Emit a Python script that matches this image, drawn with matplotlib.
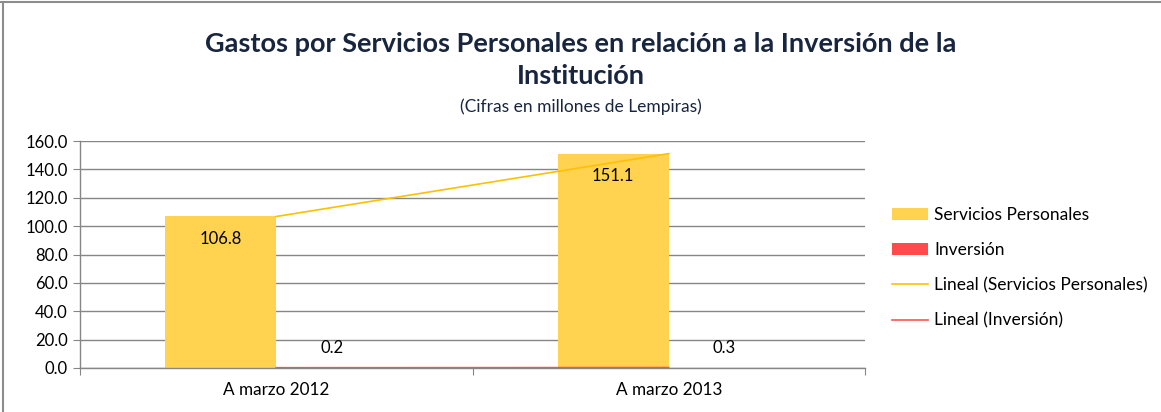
import numpy as np
import matplotlib.pyplot as plt
from matplotlib.lines import Line2D

categories = ["A marzo 2012", "A marzo 2013"]
servicios = [106.8, 151.1]
inversion = [0.2, 0.3]
series_names = ["Servicios Personales", "Inversión"]
trend_names = ["Lineal (Servicios Personales)", "Lineal (Inversión)"]

yellow = "#FFD34F"
yellow_line = "#FFC000"
red = "#FF4B4B"
red_line = "#FF5050"
grid_gray = "#868686"
title_col = "#17253F"

plt.rcParams['font.family'] = ['Lato', 'DejaVu Sans']

W, H = 1161, 412
fig = plt.figure(figsize=(W / 100, H / 100), dpi=100)

# plot area in pixel coordinates
left, right, top, bottom = 80, 865, 141, 368
ax = fig.add_axes([left / W, 1 - bottom / H, (right - left) / W, (bottom - top) / H])

x = np.arange(len(categories))
w = 0.283
ax.bar(x - w / 2, servicios, w, color=yellow, label=series_names[0], zorder=2)
ax.bar(x + w / 2, inversion, w, color=red, label=series_names[1], zorder=2)

# linear trendlines (Excel style, at category centers)
for vals, col, name in [(servicios, yellow_line, trend_names[0]),
                        (inversion, red_line, trend_names[1])]:
    m, b = np.polyfit(x, vals, 1)
    ax.plot(x, m * x + b, color=col, lw=1.2, label=name, zorder=3)

for xi, v in zip(x, servicios):
    ax.annotate(f"{v:.1f}", (xi - w / 2, v), xytext=(0, -16), textcoords="offset points",
                ha="center", va="center", fontsize=12, color="black", zorder=4)
for xi, v in zip(x, inversion):
    ax.annotate(f"{v:.1f}", (xi + w / 2, v), xytext=(0, 14), textcoords="offset points",
                ha="center", va="center", fontsize=12, color="black", zorder=4)

ax.set_xlim(-0.5, 1.5)
ax.set_ylim(0, 160)
ax.set_yticks(np.arange(0, 161, 20))
ax.set_yticklabels([f"{t:.1f}" for t in np.arange(0, 161, 20)], fontsize=12)
ax.yaxis.grid(True, color=grid_gray, lw=1, zorder=0)
ax.set_axisbelow(True)

ax.set_xticks([-0.5, 0.5, 1.5], minor=False)
ax.set_xticklabels([])
ax.set_xticks(x, minor=True)
ax.set_xticklabels(categories, minor=True, fontsize=12.3)
ax.tick_params(axis="x", which="minor", length=0, pad=10)
ax.tick_params(axis="x", which="major", length=5, color=grid_gray, direction="out")
ax.tick_params(axis="y", length=5, color=grid_gray, direction="out", pad=4)

for s in ["top", "right"]:
    ax.spines[s].set_visible(False)
for s in ["left", "bottom"]:
    ax.spines[s].set_color(grid_gray)
    ax.spines[s].set_linewidth(1)

fig.text(0.5, 1 - 44 / H, "Gastos por Servicios Personales en relación a la Inversión de la",
         ha="center", va="center", fontsize=19.5, fontweight="bold", color=title_col)
fig.text(0.5, 1 - 76 / H, "Institución",
         ha="center", va="center", fontsize=19.5, fontweight="bold", color=title_col)
fig.text(0.5, 1 - 107 / H, "(Cifras en millones de Lempiras)",
         ha="center", va="center", fontsize=12.5, color=title_col)

handles, labels = ax.get_legend_handles_labels()
order = [2, 3, 0, 1]
leg = fig.legend([handles[i] for i in order], [labels[i] for i in order],
                 loc="center left", bbox_to_anchor=(885 / W, 1 - 268 / H),
                 frameon=False, fontsize=12.5, labelspacing=1.1,
                 handlelength=2.1, handletextpad=0.35, borderaxespad=0)

# outer chart border (top and left edges visible)
fig.add_artist(Line2D([0, 1], [1 - 2 / H, 1 - 2 / H], color="#8C8C8C", lw=1.5,
                      transform=fig.transFigure))
fig.add_artist(Line2D([3 / W, 3 / W], [0, 1 - 2 / H], color="#8C8C8C", lw=1.5,
                      transform=fig.transFigure))

fig.savefig("out.png", dpi=100)
